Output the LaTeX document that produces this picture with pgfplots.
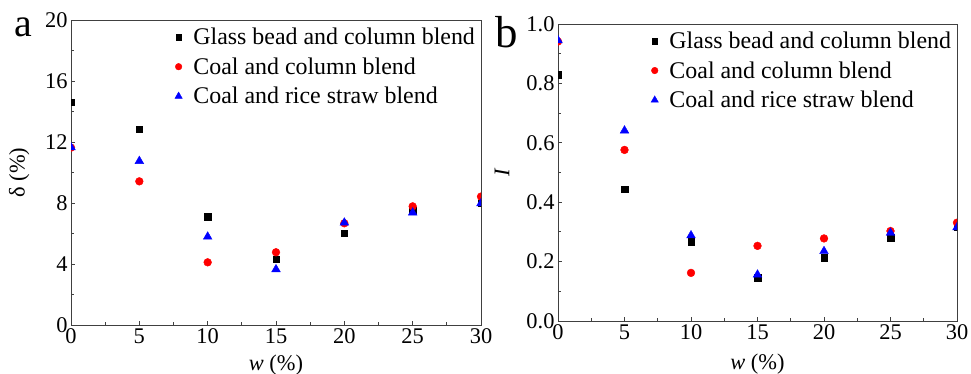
\documentclass[border=0pt]{standalone}
\usepackage{pgfplots}
\pgfplotsset{compat=1.18}
\usepackage{fontspec}
\setmainfont{Liberation Serif}

\pgfplotsset{
  panel/.style={
    scale only axis,
    xmin=0, xmax=30, xtick={0,5,...,30},
    minor x tick num=1, minor y tick num=1,
    tick align=inside,
    tick pos=left,
    major tick length=4bp, minor tick length=3bp,
    axis line style={line width=0.8bp, black!75},
    every tick/.style={black!75, line width=0.8bp},
    tick label style={font=\fontsize{22.5}{24}\selectfont},
    /pgf/number format/assume math mode=true,
    label style={font=\fontsize{22.5}{24}\selectfont},
    legend style={draw=none, fill=none, font=\fontsize{24}{26}\selectfont,
      at={(0.99,0.98)}, anchor=north east, row sep=7.5bp,
      inner sep=0pt, outer sep=0pt},
    legend cell align=left,
    legend image code/.code={\path[draw=none, fill=none] (0cm,-0.05cm) rectangle (0.55cm,0.05cm); \draw[mark size=0.85\pgfplotmarksize] plot coordinates {(0.1cm,0cm)};},
    clip marker paths=true,
  },
  sq/.style={only marks, mark=square*, mark size=3.3bp, color=black, mark options={draw=black, fill=black}},
  ci/.style={only marks, mark=*, mark size=3.9bp, color=red, mark options={draw=red, fill=red}},
  tr/.style={only marks, mark=triangle*, mark size=5bp, color=blue, mark options={draw=blue, fill=blue}},
}

\begin{document}
\begin{tikzpicture}
\path[use as bounding box] (0,0) rectangle (971bp,374bp);

\begin{axis}[panel,
  at={(71bp,49bp)}, anchor=south west,
  width=410bp, height=305bp,
  ymin=0, ymax=20, ytick={0,4,...,20},
  xlabel={\textit{w} (\%)},
  ylabel={δ (\%)},
  ylabel style={at={(axis description cs:-0.093,0.5)}, anchor=south},
  xlabel style={at={(axis description cs:0.5,-0.087)}, anchor=north},
]
\addplot[sq] coordinates {(0,14.6) (5,12.83) (10,7.10) (15,4.31) (20,6.01) (25,7.5) (30,7.98)};
\addlegendentry{Glass bead and column blend}
\addplot[ci] coordinates {(0,11.63) (5,9.42) (10,4.11) (15,4.77) (20,6.67) (25,7.78) (30,8.42)};
\addlegendentry{Coal and column blend}
\addplot[tr] coordinates {(0,11.65) (5,10.75) (10,5.79) (15,3.65) (20,6.71) (25,7.37) (30,7.98)};
\addlegendentry{Coal and rice straw blend}
\end{axis}

\begin{axis}[panel,
  at={(558bp,53bp)}, anchor=south west,
  width=399bp, height=297bp,
  ymin=0, ymax=1, ytick={0,0.2,...,1.0},
  yticklabel style={/pgf/number format/.cd, fixed, fixed zerofill, precision=1},
  xlabel={\textit{w} (\%)},
  ylabel={\textit{I}},
  ylabel style={at={(axis description cs:-0.113,0.5)}, anchor=south},
  xlabel style={at={(axis description cs:0.5,-0.1)}, anchor=north},
]
\addplot[sq] coordinates {(0,0.829) (5,0.444) (10,0.267) (15,0.145) (20,0.213) (25,0.28) (30,0.317)};
\addlegendentry{Glass bead and column blend}
\addplot[ci] coordinates {(0,0.941) (5,0.576) (10,0.162) (15,0.253) (20,0.278) (25,0.303) (30,0.331)};
\addlegendentry{Coal and column blend}
\addplot[tr] coordinates {(0,0.945) (5,0.641) (10,0.288) (15,0.156) (20,0.235) (25,0.297) (30,0.315)};
\addlegendentry{Coal and rice straw blend}
\end{axis}

\node[font=\fontsize{40}{40}\selectfont, anchor=base, inner sep=0pt] at (23bp,337bp) {a};
\node[font=\fontsize{45}{45}\selectfont, anchor=base, inner sep=0pt] at (507bp,326bp) {b};
\end{tikzpicture}
\end{document}
